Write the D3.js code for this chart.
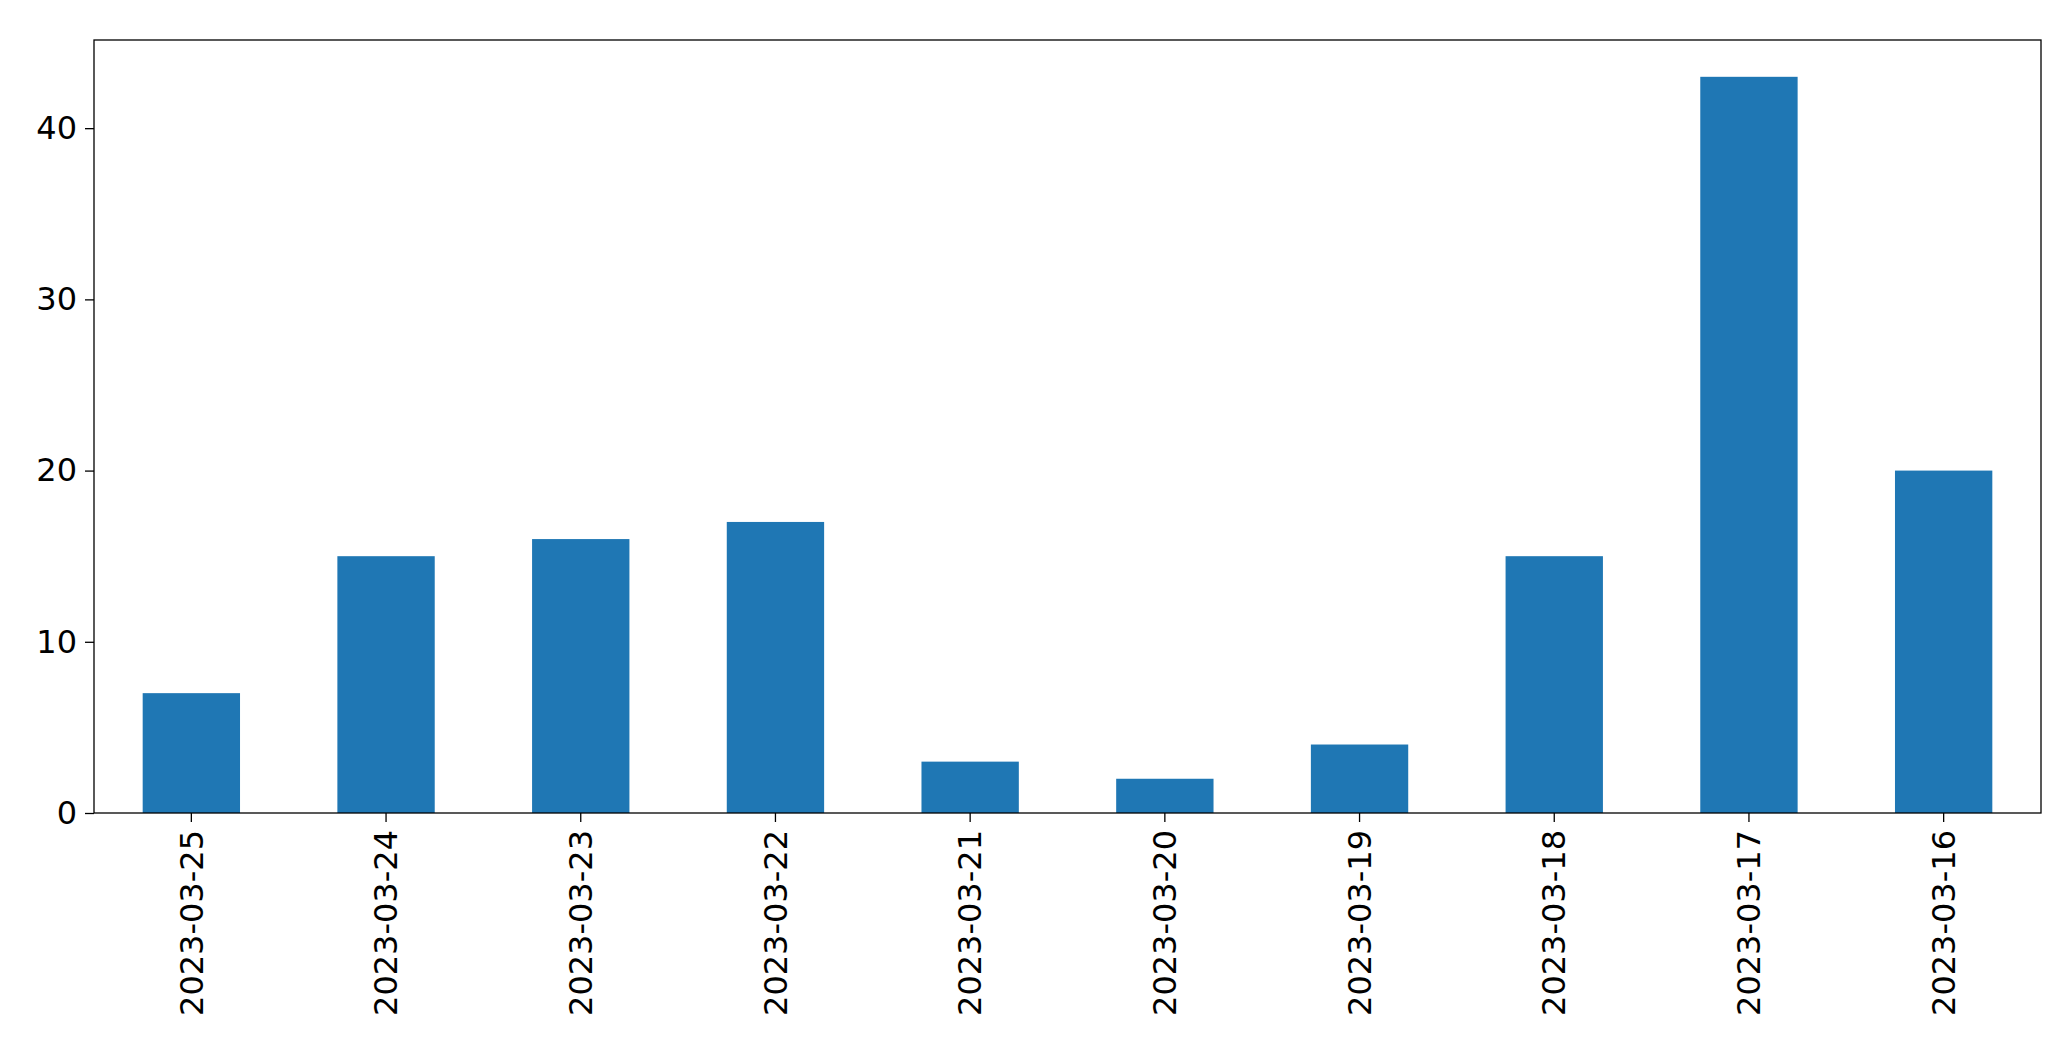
<!DOCTYPE html>
<html><head><meta charset="utf-8">
<script src="https://cdn.jsdelivr.net/npm/d3@7"></script>
<style>body{margin:0;background:#fff}svg{display:block}text{font-family:"DejaVu Sans",sans-serif}</style>
</head><body>
<script>
var dates = ["2023-03-25","2023-03-24","2023-03-23","2023-03-22","2023-03-21","2023-03-20","2023-03-19","2023-03-18","2023-03-17","2023-03-16"];
var counts = [7,15,16,17,3,2,4,15,43,20];
var yTicks = [0,10,20,30,40];

var W = 2071, H = 1061;
var m = {left:94, right:30, top:40, bottom:248};
var svg = d3.select("body").append("svg").attr("width", W).attr("height", H);

var x = d3.scaleBand().domain(dates).range([m.left, W - m.right]).padding(0);
var y = d3.scaleLinear().domain([0, 45.15]).range([H - m.bottom, m.top]);

svg.selectAll("rect.bar").data(dates).enter().append("rect")
    .attr("class","bar")
    .attr("x", function(d){ return x(d) + x.bandwidth()/4 })
    .attr("width", x.bandwidth()/2)
    .attr("y", function(d,i){ return y(counts[i]) })
    .attr("height", function(d,i){ return y(0) - y(counts[i]) })
    .attr("fill", "#1f77b4");

var ya = svg.append("g").attr("transform","translate(" + m.left + ",0)")
    .call(d3.axisLeft(y).tickValues(yTicks).tickSize(9).tickPadding(8));
ya.selectAll("text").attr("font-size", 32).attr("font-family","DejaVu Sans");

var xa = svg.append("g").attr("transform","translate(0," + (H - m.bottom) + ")")
    .call(d3.axisBottom(x).tickSize(9).tickPadding(8));
xa.selectAll("text").attr("font-size", 32).attr("font-family","DejaVu Sans")
    .attr("transform","rotate(-90)").attr("text-anchor","end")
    .attr("x", -17).attr("y", 0).attr("dy","0.35em");
svg.selectAll(".domain").remove();
svg.selectAll(".tick line").attr("stroke","#000").attr("stroke-width",1.3);

svg.append("rect").attr("x", m.left).attr("y", m.top)
    .attr("width", W - m.left - m.right).attr("height", H - m.top - m.bottom)
    .attr("fill","none").attr("stroke","#000").attr("stroke-width",1.3);
</script>
</body></html>
